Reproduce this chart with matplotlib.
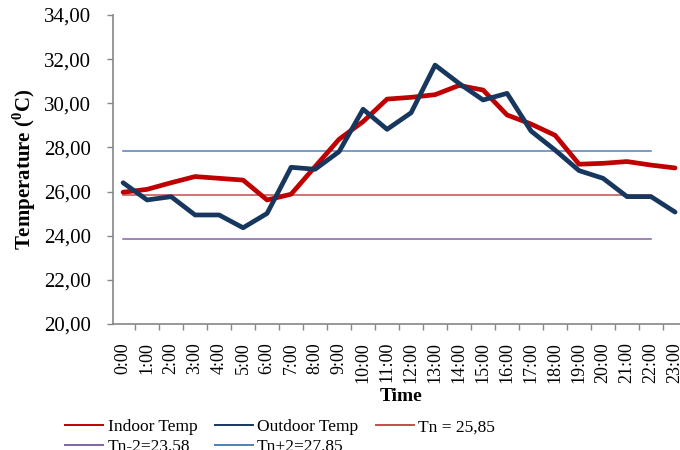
"""Indoor vs outdoor hourly temperature with comfort band lines."""

import matplotlib
matplotlib.use("Agg")
import matplotlib.pyplot as plt
from matplotlib.ticker import FixedLocator, FuncFormatter

plt.rcParams["font.family"] = ["Liberation Serif", "DejaVu Serif"]
plt.rcParams["mathtext.fontset"] = "custom"
plt.rcParams["mathtext.rm"] = "Liberation Serif"
plt.rcParams["mathtext.bf"] = "Liberation Serif:bold"

hours = [f"{h}:00" for h in range(24)]
indoor = [25.97, 26.10, 26.40, 26.68, 26.60, 26.52, 25.62, 25.88, 27.13, 28.37,
          29.17, 30.19, 30.27, 30.39, 30.81, 30.60, 29.47, 29.06, 28.55, 27.24,
          27.28, 27.36, 27.20, 27.07]
outdoor = [26.40, 25.62, 25.77, 24.94, 24.94, 24.36, 25.01, 27.10, 27.01, 27.81,
           29.73, 28.82, 29.57, 31.73, 30.90, 30.15, 30.45, 28.74, 27.88, 26.95,
           26.60, 25.77, 25.77, 25.07]
tn = 25.85
tn_low = 23.85
tn_high = 27.85
ref_hours = 23  # reference lines drawn from 0:00 to 22:00

fig = plt.figure(figsize=(6.8, 4.5), dpi=100)
ax = fig.add_axes([113 / 680, 126 / 450, 576 / 680, 309 / 450])

x = list(range(len(hours)))
xr = x[:ref_hours]
l_in, = ax.plot(x, indoor, color="#C00000", lw=3.4, solid_joinstyle="round",
                solid_capstyle="round", zorder=4)
l_out, = ax.plot(x, outdoor, color="#17375E", lw=3.4, solid_joinstyle="round",
                 solid_capstyle="round", zorder=5)
l_tn, = ax.plot(xr, [tn] * ref_hours, color="#C0504D", lw=1.1, zorder=3)
l_lo, = ax.plot(xr, [tn_low] * ref_hours, color="#8064A2", lw=1.1, zorder=3)
l_hi, = ax.plot(xr, [tn_high] * ref_hours, color="#4F81BD", lw=1.1, zorder=3)

ax.set_ylim(20, 34)
ax.set_yticks([20, 22, 24, 26, 28, 30, 32, 34])
ax.yaxis.set_major_formatter(FuncFormatter(lambda v, _: f"{v:.2f}".replace(".", ",")))
ax.set_xlim(-0.42, 23.58)
ax.xaxis.set_major_locator(FixedLocator([i + 0.5 for i in range(24)]))
ax.xaxis.set_major_formatter(FuncFormatter(lambda v, _: ""))
ax.xaxis.set_minor_locator(FixedLocator(x))
ax.set_xticklabels(hours, minor=True, rotation=90, fontsize=13)
ax.tick_params(axis="x", which="minor", length=0, pad=13)
ax.tick_params(axis="both", which="major", length=4, color="#868686", width=1)
ax.tick_params(axis="y", labelsize=15, pad=12)

for s in ["top", "right"]:
    ax.spines[s].set_visible(False)
for s in ["left", "bottom"]:
    ax.spines[s].set_color("#868686")
    ax.spines[s].set_linewidth(1.2)

ax.set_ylabel(r"Temperature ($^{\mathbf{0}}$C)", fontsize=15, fontweight="bold", labelpad=4)
ax.set_xlabel("Time", fontsize=14, fontweight="bold", labelpad=4)

handles = [l_in, l_lo, l_out, l_hi, l_tn]
labels = ["Indoor Temp", "Tn-2=23.58", "Outdoor Temp", "Tn+2=27.85", "Tn = 25,85"]
leg_handles = [plt.Line2D([], [], color=h.get_color(), lw=1.4) for h in handles]
fig.legend(leg_handles, labels, ncol=3, loc="upper left",
           bbox_to_anchor=(65 / 680, 1 - 419 / 450), frameon=False, fontsize=12.5,
           handlelength=2.2, handletextpad=0.25, columnspacing=1.0,
           labelspacing=0.2, borderpad=0, borderaxespad=0)

fig.savefig("out.png", dpi=100)
